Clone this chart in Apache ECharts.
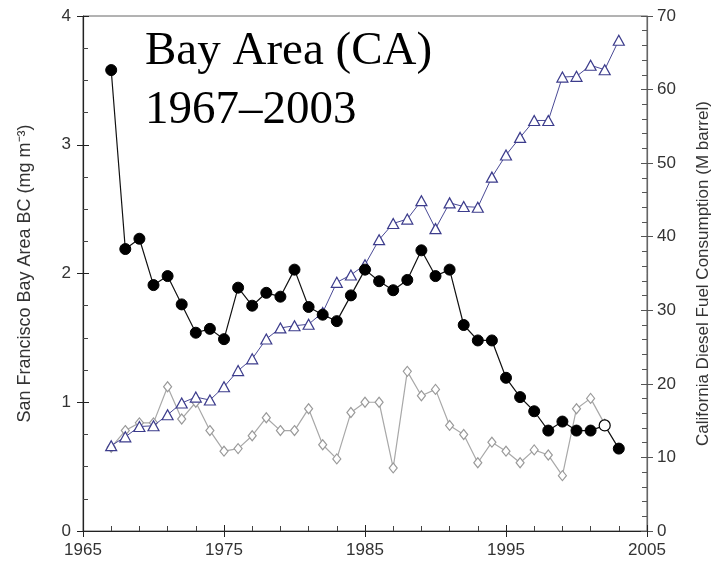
<!DOCTYPE html>
<html>
<head>
<meta charset="utf-8">
<script src="https://cdn.jsdelivr.net/npm/echarts@6/dist/echarts.min.js"></script>
<style>
html,body{margin:0;padding:0;background:#fff;}
#c{width:715px;height:564px;}
</style>
</head>
<body>
<div id="c"></div>
<script>
var years = [1967,1968,1969,1970,1971,1972,1973,1974,1975,1976,1977,1978,1979,1980,1981,1982,1983,1984,1985,1986,1987,1988,1989,1990,1991,1992,1993,1994,1995,1996,1997,1998,1999,2000,2001,2002,2003];
var bcValues = [3.58,2.19,2.27,1.91,1.98,1.76,1.54,1.57,1.49,1.89,1.75,1.85,1.82,2.03,1.74,1.68,1.63,1.83,2.03,1.94,1.87,1.95,2.18,1.98,2.03,1.60,1.48,1.48,1.19,1.04,0.93,0.78,0.85,0.78,0.78,0.82,0.64];
var dieselValues = [11.6,12.8,14.2,14.3,15.8,17.4,18.2,17.8,19.6,21.8,23.4,26.1,27.6,27.9,28.1,29.7,33.8,34.8,36.2,39.6,41.8,42.4,44.9,41.1,44.6,44.1,44.0,48.1,51.1,53.5,55.8,55.8,61.7,61.8,63.3,62.7,66.7];
var grayValues = [0.65,0.78,0.84,0.84,1.12,0.87,1.00,0.78,0.62,0.64,0.74,0.88,0.78,0.78,0.95,0.67,0.56,0.92,1.00,1.00,0.49,1.24,1.05,1.10,0.82,0.75,0.53,0.69,0.62,0.53,0.63,0.59,0.43,0.95,1.03,0.83];
var hollowBcYear = 2002;
var titleLines = ['Bay Area (CA)', '1967\u20132003'];
var leftName = 'San Francisco Bay Area BC (mg m\u207B\u00B3)';
var rightName = 'California Diesel Fuel Consumption (M barrel)';

var chart = echarts.init(document.getElementById('c'), null, {renderer:'canvas'});

var bcData = years.map(function(y,i){
  var item = {value:[y, bcValues[i]]};
  if (y === hollowBcYear) item.itemStyle = {color:'#fff', borderColor:'#000', borderWidth:1.2};
  return item;
});
var dieselData = years.map(function(y,i){ return [y, dieselValues[i]]; });
var grayData = grayValues.map(function(v,i){ return [years[i], v]; });

var FONT = 'Liberation Sans, Arial, sans-serif';
var labelStyle = {color:'#333', fontSize:17, fontFamily:FONT};

var option = {
  animation:false,
  backgroundColor:'#fff',
  grid:{left:83, right:68, top:16, bottom:33, containLabel:false, outerBoundsMode:'none',
        show:true, borderColor:'#666', borderWidth:1, backgroundColor:'transparent'},
  graphic:[
    {type:'text', left:145, top:28, style:{text:titleLines[0], font:'47px "Liberation Serif", "Times New Roman", serif', fill:'#000'}},
    {type:'text', left:145, top:87, style:{text:titleLines[1], font:'47px "Liberation Serif", "Times New Roman", serif', fill:'#000'}}
  ],
  xAxis:[
    {type:'value', min:1965, max:2005, interval:10,
     axisLine:{show:true, lineStyle:{color:'#222', width:1.2}},
     axisTick:{show:true, inside:true, length:6, lineStyle:{color:'#222'}},
     minorTick:{show:true, splitNumber:5, length:5, lineStyle:{color:'#444'}},
     axisLabel:Object.assign({margin:11, formatter:function(v){return String(v);}}, labelStyle),
     splitLine:{show:false}},
    {type:'value', min:1965, max:2005, interval:10, position:'bottom',
     axisLine:{show:false}, axisTick:{show:true, inside:false, length:6, lineStyle:{color:'#222'}},
     axisLabel:{show:false}, splitLine:{show:false}}
  ],
  yAxis:[
    {type:'value', min:0, max:4, interval:1, position:'left',
     name:leftName, nameLocation:'middle', nameGap:49, nameTextStyle:{color:'#333', fontSize:18, fontFamily:FONT},
     axisLine:{show:true, lineStyle:{color:'#222', width:1.2}},
     axisTick:{show:true, inside:true, length:6, lineStyle:{color:'#222'}},
     minorTick:{show:true, splitNumber:4, length:5, lineStyle:{color:'#444'}},
     axisLabel:Object.assign({margin:12}, labelStyle),
     splitLine:{show:false}},
    {type:'value', min:0, max:70, interval:10, position:'right',
     name:rightName, nameLocation:'middle', nameGap:48, nameRotate:90, nameTextStyle:{color:'#333', fontSize:17, fontFamily:FONT},
     axisLine:{show:true, lineStyle:{color:'#666', width:1.2}},
     axisTick:{show:true, inside:true, length:6, lineStyle:{color:'#555'}},
     minorTick:{show:true, splitNumber:5, length:5, lineStyle:{color:'#555'}},
     axisLabel:Object.assign({margin:10}, labelStyle),
     splitLine:{show:false}},
    {type:'value', min:0, max:4, interval:1, position:'left',
     axisLine:{show:false}, axisTick:{show:true, inside:false, length:6, lineStyle:{color:'#222'}},
     axisLabel:{show:false}, splitLine:{show:false}},
    {type:'value', min:0, max:70, interval:10, position:'right',
     axisLine:{show:false}, axisTick:{show:true, inside:false, length:6, lineStyle:{color:'#555'}},
     axisLabel:{show:false}, splitLine:{show:false}}
  ],
  series:[
    {type:'line', name:'Gray', xAxisIndex:0, yAxisIndex:0, data:grayData,
     symbol:'diamond', symbolSize:[8,10],
     lineStyle:{color:'#a8a8a8', width:1.2},
     itemStyle:{color:'#fff', borderColor:'#999', borderWidth:1.2}, z:2},
    {type:'line', name:'Diesel', xAxisIndex:0, yAxisIndex:1, data:dieselData,
     symbol:'triangle', symbolSize:[11,10],
     lineStyle:{color:'#4a4a96', width:1},
     itemStyle:{color:'#fff', borderColor:'#3c3c8c', borderWidth:1.2}, z:3},
    {type:'line', name:'BC', xAxisIndex:0, yAxisIndex:0, data:bcData,
     symbol:'circle', symbolSize:11,
     lineStyle:{color:'#111', width:1.2},
     itemStyle:{color:'#000', borderColor:'#000', borderWidth:1}, z:4}
  ]
};
chart.setOption(option);
</script>
</body>
</html>
